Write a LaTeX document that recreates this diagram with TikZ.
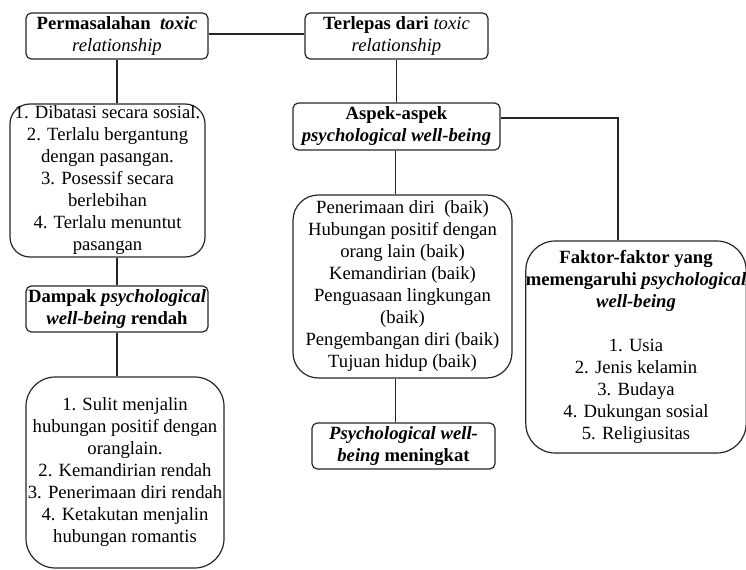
\documentclass[tikz,border=0pt]{standalone}
\usepackage{fontspec}
\setmainfont{Liberation Serif}
\begin{document}
\begin{tikzpicture}[x=0.75pt,y=-0.75pt,
  box/.style={draw=black!85, line width=0.9pt, rounded corners=#1, align=center,
    inner sep=0pt, font=\fontsize{14}{16.5}\selectfont},
  box/.default=4pt,
  sz/.style 2 args={minimum width={#1*0.75pt}, minimum height={#2*0.75pt}},
  conn/.style={draw=black!85, line width=1pt}]
\useasboundingbox (0,0) rectangle (746,570);

\node[box, sz={182}{46}] (A) at (117,36)
  {\textbf{Permasalahan~~\textit{toxic}}\\ \textit{relationship}};
\node[box, sz={183}{46}] (B) at (396.5,36)
  {\textbf{Terlepas dari} \textit{toxic}\\ \textit{relationship}};
\node[box=15pt, sz={195}{153}] (L1) at (107.5,180.5)
  {1. Dibatasi secara sosial.\\ 2. Terlalu bergantung\\ dengan pasangan.\\
   3. Posessif secara\\ berlebihan\\ 4. Terlalu menuntut\\ pasangan};
\node[box, sz={182}{46}] (D) at (117,309)
  {\textbf{Dampak \textit{psychological}}\\ \textbf{\textit{well-being} rendah}};
\node[box=22pt, sz={198}{191}] (BL) at (125,472.5)
  {1. Sulit menjalin\\ hubungan positif dengan\\ oranglain.\\ 2. Kemandirian rendah\\
   3. Penerimaan diri rendah\\ 4. Ketakutan menjalin\\ hubungan romantis};
\node[box, sz={207}{47}] (AS) at (396.5,126.5)
  {\textbf{Aspek-aspek}\\ \textbf{\textit{psychological well-being}}};
\node[box=19pt, sz={219}{183}] (L2) at (402.5,286.5)
  {Penerimaan diri~~(baik)\\ Hubungan positif dengan\\ orang lain (baik)\\
   Kemandirian (baik)\\ Penguasaan lingkungan\\ (baik)\\
   Pengembangan diri (baik)\\ Tujuan hidup (baik)};
\node[box, sz={183}{46}] (P) at (403.5,446)
  {\textbf{\textit{Psychological well-}}\\ \textbf{\textit{being} meningkat}};
\node[box=22pt, sz={218}{212}] (F) at (636,347)
  {\textbf{Faktor-faktor yang}\\ \textbf{memengaruhi \textit{psychological}}\\
   \textbf{\textit{well-being}}\\[16.5pt]
   1. Usia\\ 2. Jenis kelamin\\ 3. Budaya\\ 4. Dukungan sosial\\ 5. Religiusitas};

\draw[conn] ([yshift=1.5pt]A.east) -- ([yshift=1.5pt]B.west);
\draw[conn] (A.south) -- (A.south |- L1.north);
\draw[conn] (D.north |- L1.south) -- (D.north);
\draw[conn] (D.south) -- (D.south |- BL.north);
\draw[conn] (B.south) -- (B.south |- AS.north);
\draw[conn] ([xshift=-1pt]AS.south) -- ([xshift=-1pt]AS.south |- L2.north);
\draw[conn] ([xshift=-1pt]AS.south |- L2.south) -- ([xshift=-1pt]AS.south |- P.north);
\draw[conn] ([yshift=6.4pt]AS.east) -| ([xshift=-13.5pt]F.north);
\end{tikzpicture}
\end{document}
